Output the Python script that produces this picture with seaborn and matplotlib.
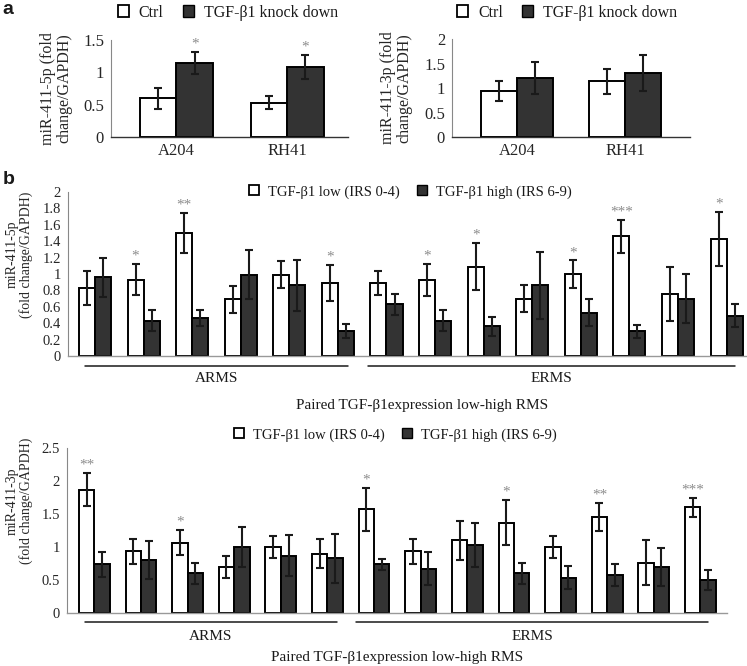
import numpy as np
import pandas as pd
import matplotlib
matplotlib.use('Agg')
import matplotlib.pyplot as plt
import matplotlib.transforms as mtransforms
from matplotlib.patches import Patch
import seaborn as sns

# panel a: knock-down experiment
cell_lines = ['A204', 'RH41']
ctrl_5p = [0.60, 0.53]
ctrl_5p_err = [0.165, 0.10]
kd_5p = [1.15, 1.08]
kd_5p_err = [0.17, 0.19]
kd_5p_stars = ['*', '*']
ctrl_3p = [0.94, 1.14]
ctrl_3p_err = [0.195, 0.255]
kd_3p = [1.20, 1.30]
kd_3p_err = [0.325, 0.365]

# panel b: paired low/high samples (6 ARMS + 8 ERMS)
pairs = [str(i) for i in range(1, 15)]
low_5p = [0.83, 0.93, 1.50, 0.69, 0.99, 0.89, 0.89, 0.93, 1.09, 0.70, 1.00, 1.46, 0.76, 1.43]
low_5p_err = [0.21, 0.19, 0.245, 0.165, 0.165, 0.215, 0.145, 0.195, 0.29, 0.16, 0.165, 0.20, 0.33, 0.33]
high_5p = [0.96, 0.43, 0.46, 0.99, 0.86, 0.30, 0.63, 0.43, 0.36, 0.86, 0.53, 0.30, 0.70, 0.49]
high_5p_err = [0.24, 0.13, 0.10, 0.30, 0.31, 0.085, 0.13, 0.125, 0.12, 0.41, 0.17, 0.08, 0.30, 0.14]
stars_5p = ['', '*', '**', '', '', '*', '', '*', '*', '', '*', '***', '', '*']

low_3p = [1.87, 0.935, 1.065, 0.70, 1.00, 0.90, 1.57, 0.935, 1.10, 1.37, 1.00, 1.46, 0.765, 1.60]
low_3p_err = [0.25, 0.19, 0.19, 0.165, 0.16, 0.215, 0.33, 0.19, 0.29, 0.34, 0.165, 0.21, 0.335, 0.145]
high_3p = [0.735, 0.80, 0.60, 1.00, 0.865, 0.83, 0.735, 0.67, 1.03, 0.60, 0.535, 0.57, 0.70, 0.50]
high_3p_err = [0.185, 0.29, 0.165, 0.30, 0.31, 0.37, 0.09, 0.25, 0.33, 0.16, 0.17, 0.165, 0.29, 0.145]
stars_3p = ['**', '', '*', '', '', '', '*', '', '', '*', '', '**', '', '***']

groups = ['ARMS', 'ERMS']
group_spans = [(-0.2, 5.2), (5.62, 13.17)]

sns.set_style('white')
plt.rcParams['font.family'] = ['Liberation Serif', 'DejaVu Serif']
plt.rcParams['text.color'] = '#1a1a1a'

DARK = '#333333'
STAR = '#8c8c8c'

fig = plt.figure(figsize=(7.47, 6.66), dpi=100)


def draw_pairs(ax, cats, a, a_err, b, b_err, names, stars, star_on, fs_star):
    n = len(cats)
    df = pd.DataFrame({'cat': cats * 2, 'val': a + b,
                       'grp': [names[0]] * n + [names[1]] * n})
    sns.barplot(data=df, x='cat', y='val', hue='grp', order=cats, hue_order=names,
                palette=['white', DARK], edgecolor='black', linewidth=1.4,
                width=0.66, errorbar=None, legend=False, saturation=1, ax=ax)
    tops = []
    for cont, errs in zip(ax.containers, [a_err, b_err]):
        xs = [p.get_x() + p.get_width() / 2 for p in cont]
        ys = [p.get_height() for p in cont]
        ax.errorbar(xs, ys, yerr=errs, fmt='none', ecolor='#1a1a1a',
                    elinewidth=1.5, capsize=3, capthick=1.5, zorder=5)
        tops.append([(x, y + e) for x, y, e in zip(xs, ys, errs)])
    for (x, y), s in zip(tops[star_on], stars):
        if s:
            ax.annotate(s, (x, y), xytext=(0, 1), textcoords='offset points',
                        ha='center', va='bottom', color=STAR, fontsize=fs_star)


def style_axis(ax, ylim, yticks, ylabels, xlim, base_color, fs):
    ax.set_ylim(*ylim)
    ax.set_xlim(*xlim)
    ax.set_yticks(yticks)
    ax.set_yticklabels(ylabels, fontsize=fs)
    ax.set_xlabel('')
    ax.set_ylabel('')
    sns.despine(ax=ax)
    ax.spines['left'].set_color('#888888')
    ax.spines['left'].set_linewidth(0.8)
    ax.spines['bottom'].set_color(base_color)
    ax.spines['bottom'].set_linewidth(1.0)
    ax.tick_params(axis='y', direction='out', length=3, width=0.8, color='#888888', pad=2)
    ax.tick_params(axis='x', length=0, labelsize=fs, pad=4)


def add_legend(labels, cx, cy, fs):
    handles = [Patch(facecolor='white', edgecolor='black', linewidth=1.3),
               Patch(facecolor=DARK, edgecolor='black', linewidth=1.0)]
    fig.legend(handles, labels, loc='center', bbox_to_anchor=(cx, cy), ncol=2,
               frameon=False, fontsize=fs, handlelength=0.7, handleheight=0.7,
               handletextpad=0.6, columnspacing=1.2, borderpad=0)


# ---- panel a, left
ax1 = fig.add_axes([0.1486, 0.7943, 0.3173, 0.1456])
draw_pairs(ax1, cell_lines, ctrl_5p, ctrl_5p_err, kd_5p, kd_5p_err,
           ['Ctrl', 'KD'], kd_5p_stars, 1, 11)
style_axis(ax1, (0, 1.5), [0, 0.5, 1, 1.5], ['0', '0.5', '1', '1.5'],
           (-0.59, 1.55), '#333333', 12)
ax1.set_ylabel('miR-411-5p (fold\nchange/GAPDH)', fontsize=11.5, linespacing=1.0)
ax1.yaxis.set_label_coords(-0.165, 0.5)
add_legend(['Ctrl', 'TGF-β1 knock down'], 0.305, 0.981, 11.5)

# ---- panel a, right
ax2 = fig.add_axes([0.6051, 0.7943, 0.3186, 0.1471])
draw_pairs(ax2, cell_lines, ctrl_3p, ctrl_3p_err, kd_3p, kd_3p_err,
           ['Ctrl', 'KD'], ['', ''], 1, 11)
style_axis(ax2, (0, 2), [0, 0.5, 1, 1.5, 2], ['0', '0.5', '1', '1.5', '2'],
           (-0.60, 1.60), '#333333', 12)
ax2.set_ylabel('miR-411-3p (fold\nchange/GAPDH)', fontsize=11.5, linespacing=1.0)
ax2.yaxis.set_label_coords(-0.168, 0.5)
add_legend(['Ctrl', 'TGF-β1 knock down'], 0.759, 0.981, 11.5)

b_names = ['TGF-β1 low (IRS 0-4)', 'TGF-β1 high (IRS 6-9)']

# ---- panel b, 5p
ax3 = fig.add_axes([0.0910, 0.4655, 0.9090, 0.2462])
draw_pairs(ax3, pairs, low_5p, low_5p_err, high_5p, high_5p_err,
           b_names, stars_5p, 0, 11)
t5 = [round(0.2 * i, 1) for i in range(11)]
style_axis(ax3, (0, 2), t5, ['0'] + [f'{v:g}' for v in t5[1:]],
           (-0.556, 13.42), '#999999', 10.5)
ax3.set_xticklabels([])
ax3.set_ylabel('miR-411-5p\n(fold change/GAPDH)', fontsize=10, linespacing=1.0)
ax3.yaxis.set_label_coords(-0.052, 0.62)
add_legend(b_names, 0.549, 0.712, 10.5)

# ---- panel b, 3p
ax4 = fig.add_axes([0.0897, 0.0796, 0.8835, 0.2477])
draw_pairs(ax4, pairs, low_3p, low_3p_err, high_3p, high_3p_err,
           b_names, stars_3p, 0, 11)
t3 = [0, 0.5, 1, 1.5, 2, 2.5]
style_axis(ax4, (0, 2.5), t3, ['0', '0.5', '1', '1.5', '2', '2.5'],
           (-0.586, 13.57), '#999999', 10.5)
ax4.set_xticklabels([])
ax4.set_ylabel('miR-411-3p\n(fold change/GAPDH)', fontsize=10, linespacing=1.0)
ax4.yaxis.set_label_coords(-0.052, 0.68)
add_legend(b_names, 0.529, 0.347, 10.5)

# group lines and labels under panel b
for ax, line_y, lab_y in [(ax3, -0.061, -0.135), (ax4, -0.053, -0.145)]:
    trans = mtransforms.blended_transform_factory(ax.transData, ax.transAxes)
    for g, (x0, x1) in zip(groups, group_spans):
        ax.plot([x0, x1], [line_y, line_y], color='#1a1a1a', lw=1.1,
                transform=trans, clip_on=False)
        ax.text((x0 + x1) / 2, lab_y, g, transform=trans, ha='center',
                va='center', fontsize=11)

fig.text(0.565, 1 - 405 / 666, 'Paired TGF-β1expression low-high RMS',
         ha='center', va='center', fontsize=11)
fig.text(0.531, 1 - 658 / 666, 'Paired TGF-β1expression low-high RMS',
         ha='center', va='center', fontsize=11)

fig.text(0.003, 1 - 10 / 666, 'a', family='Liberation Sans', weight='bold',
         fontsize=14, va='center')
fig.text(0.003, 1 - 180 / 666, 'b', family='Liberation Sans', weight='bold',
         fontsize=14, va='center')

fig.savefig('out.png', dpi=100)
